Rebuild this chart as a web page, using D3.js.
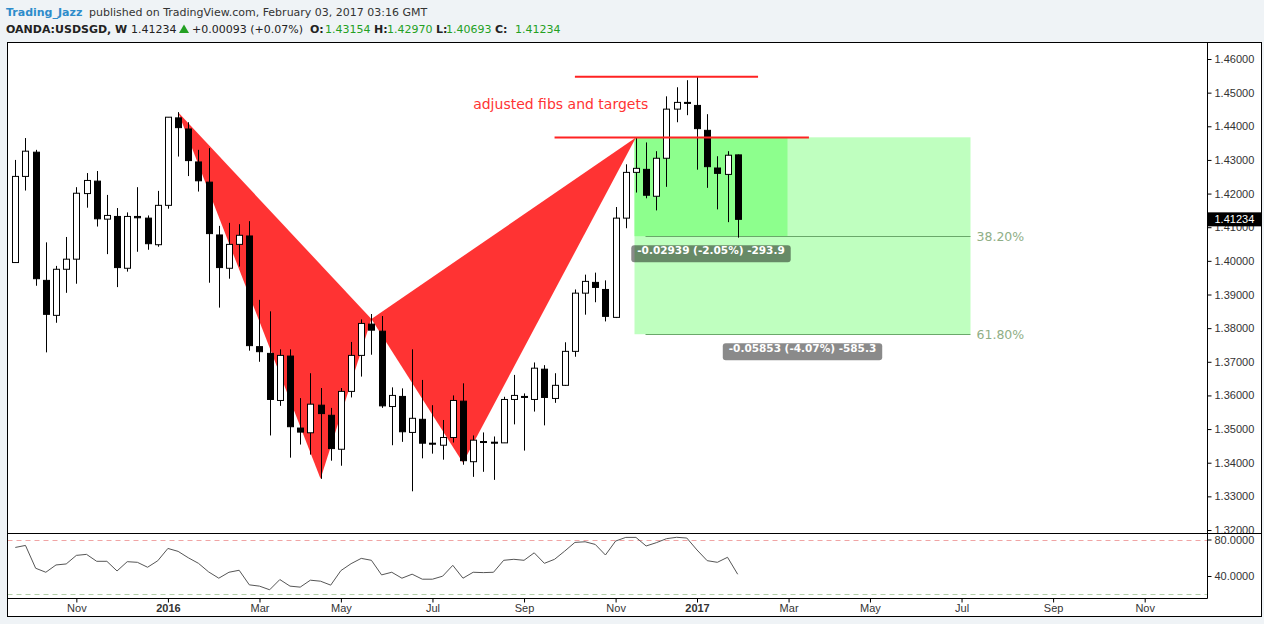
<!DOCTYPE html>
<html>
<head>
<meta charset="utf-8">
<script src="https://d3js.org/d3.v7.min.js"></script>
<style>
  body { margin: 0; background: #eff3f6; }
  svg { display: block; }
</style>
</head>
<body>
<svg width="1264" height="624"></svg>
<script>
// OANDA:USDSGD weekly bars, week of Sep 21 2015 .. week of Jan 30 2017
const firstWeek = new Date(2015, 8, 21);
const weeks = d3.timeMonday.range(firstWeek, new Date(2017, 0, 31));

const open = [1.3995, 1.4251, 1.4323, 1.3942, 1.3838, 1.3975, 1.4005, 1.4200, 1.4237, 1.4124,
  1.4132, 1.3978, 1.4132, 1.4127, 1.4048, 1.4165, 1.4425, 1.4392, 1.4294, 1.4234,
  1.4077, 1.3978, 1.4049, 1.4074, 1.3745, 1.3725, 1.3585, 1.3717, 1.3503, 1.3489,
  1.3571, 1.3541, 1.3440, 1.3612, 1.3719, 1.3812, 1.3791, 1.3567, 1.3597, 1.3490,
  1.3529, 1.3458, 1.3452, 1.3475, 1.3583, 1.3403, 1.3463, 1.3461, 1.3459, 1.3588,
  1.3597, 1.3588, 1.3678, 1.3591, 1.3630, 1.3731, 1.3904, 1.3936, 1.3915, 1.3832,
  1.4127, 1.4263, 1.4272, 1.4192, 1.4305, 1.4451, 1.4471, 1.4462, 1.4388, 1.4276,
  1.4257, 1.4315];
const high = [1.4300, 1.4365, 1.4330, 1.4055, 1.3985, 1.4071, 1.4219, 1.4261, 1.4267, 1.4196,
  1.4157, 1.4144, 1.4219, 1.4135, 1.4208, 1.4427, 1.4442, 1.4412, 1.4330, 1.4335,
  1.4104, 1.4113, 1.4109, 1.4118, 1.3884, 1.3850, 1.3737, 1.3737, 1.3592, 1.3666,
  1.3622, 1.3563, 1.3622, 1.3759, 1.3826, 1.3842, 1.3836, 1.3624, 1.3621, 1.3737,
  1.3646, 1.3571, 1.3527, 1.3600, 1.3636, 1.3481, 1.3490, 1.3478, 1.3596, 1.3661,
  1.3606, 1.3698, 1.3690, 1.3666, 1.3758, 1.3915, 1.3959, 1.3965, 1.3942, 1.4160,
  1.4287, 1.4367, 1.4352, 1.4326, 1.4489, 1.4516, 1.4537, 1.4547, 1.4436, 1.4311,
  1.4326, 1.4316];
const low = [1.3994, 1.4209, 1.3926, 1.3728, 1.3816, 1.3905, 1.3932, 1.4158, 1.4102, 1.4020,
  1.3922, 1.3968, 1.4027, 1.4033, 1.4042, 1.4155, 1.4310, 1.4252, 1.4206, 1.3935,
  1.3861, 1.3947, 1.3983, 1.3733, 1.3700, 1.3481, 1.3569, 1.3415, 1.3454, 1.3424,
  1.3352, 1.3406, 1.3391, 1.3594, 1.3656, 1.3721, 1.3563, 1.3452, 1.3462, 1.3315,
  1.3413, 1.3427, 1.3409, 1.3460, 1.3394, 1.3358, 1.3373, 1.3349, 1.3459, 1.3514,
  1.3436, 1.3552, 1.3511, 1.3578, 1.3628, 1.3715, 1.3840, 1.3877, 1.3820, 1.3830,
  1.4097, 1.4203, 1.4186, 1.4150, 1.4220, 1.4412, 1.4433, 1.4271, 1.4217, 1.4153,
  1.4115, 1.4069];
const close = [1.4251, 1.4326, 1.3947, 1.3841, 1.3975, 1.4005, 1.4201, 1.4239, 1.4125, 1.4135,
  1.3980, 1.4132, 1.4128, 1.4051, 1.4165, 1.4427, 1.4396, 1.4298, 1.4238, 1.4081,
  1.3980, 1.4049, 1.4076, 1.3748, 1.3730, 1.3588, 1.3719, 1.3507, 1.3491, 1.3574,
  1.3546, 1.3442, 1.3612, 1.3719, 1.3814, 1.3794, 1.3569, 1.3600, 1.3492, 1.3532,
  1.3458, 1.3456, 1.3475, 1.3585, 1.3406, 1.3467, 1.3461, 1.3458, 1.3588, 1.3600,
  1.3594, 1.3681, 1.3594, 1.3630, 1.3731, 1.3904, 1.3939, 1.3921, 1.3835, 1.4127,
  1.4263, 1.4275, 1.4195, 1.4305, 1.4451, 1.4471, 1.4469, 1.4393, 1.4280, 1.4260,
  1.4314, 1.41234];
const rsi = [71.3, 73.5, 48.5, 44.1, 52.1, 53.2, 62.6, 63.7, 56.1, 56.1,
  45.5, 55.7, 55.0, 49.6, 56.7, 70.2, 67.0, 60.0, 53.9, 44.5,
  37.6, 44.1, 46.3, 30.3, 28.9, 24.9, 36.1, 28.9, 27.8, 35.4,
  34.3, 30.0, 45.9, 53.5, 59.3, 57.2, 41.2, 44.1, 37.6, 42.0,
  36.5, 36.5, 39.8, 51.7, 37.6, 44.1, 43.7, 44.1, 57.2, 58.3,
  57.2, 65.4, 53.9, 58.3, 67.3, 76.8, 77.5, 74.6, 63.0, 78.3,
  82.3, 82.3, 72.9, 76.5, 80.9, 82.4, 81.6, 68.5, 56.8, 55.0,
  60.5, 41.9];

const priceTicks = d3.range(132, 147).map(v => v / 100);
const rsiTicks = [80, 40];
const rsiBands = [80, 20];

// XABCD pattern points: [week index, price]
const pattern = [[16, 1.4442], [30, 1.3352], [35, 1.3827], [44, 1.3400], [61, 1.4367]];
// red target lines: [from week, to week, price]
const targets = [[55, 73, 1.4547], [53, 78, 1.4367]];
const note = [45, 1.4450, 'adjusted fibs and targets'];

// fib / projection box
const fibTop = 1.43672;
const fibStart = 61, fibInnerEnd = 76, fibEnd = 94;
const fibPrices = [1.40733, 1.37819];
const fibPct = ['38.20%', '61.80%'];
const fibLabels = ['-0.02939 (-2.05%) -293.9', '-0.05853 (-4.07%) -585.3'];

const lastPrice = 1.41234;

// ---------------------------------------------------------------
const svg = d3.select('svg');
const L = 7.5, R = 1207.5, OR = 1261.5, T = 42.5, PB = 533.5, RB = 598.5, OB = 616.5;

const wk = i => d3.timeMonday.offset(firstWeek, i);
const x = d3.scaleTime().domain([firstWeek, new Date(2017, 0, 2)]).range([15.3, 697]);
const y = d3.scaleLinear().domain([1.32, 1.46]).range([530, 59]);
const ry = d3.scaleLinear().domain([20, 80]).range([594.25, 539.5]);
const cx = i => Math.round(x(wk(i))) + 0.5;

svg.append('rect').attr('x', L).attr('y', T).attr('width', OR - L).attr('height', OB - T).attr('fill', '#fff');

const defs = svg.append('defs');
defs.append('clipPath').attr('id', 'cp-price').append('rect')
  .attr('x', L).attr('y', T).attr('width', R - L).attr('height', PB - T);
defs.append('clipPath').attr('id', 'cp-rsi').append('rect')
  .attr('x', L).attr('y', PB).attr('width', R - L).attr('height', RB - PB);
defs.append('clipPath').attr('id', 'cp-paxis').append('rect')
  .attr('x', R).attr('y', T).attr('width', OR - R).attr('height', PB - T);

const pg = svg.append('g').attr('clip-path', 'url(#cp-price)');

// fib boxes
const bx0 = cx(fibStart) - 2;
pg.append('rect').attr('x', bx0).attr('y', y(fibTop))
  .attr('width', cx(fibEnd) - 2 - bx0).attr('height', y(fibPrices[1]) - y(fibTop))
  .attr('fill', '#bfffbf');
pg.append('rect').attr('x', bx0).attr('y', y(fibTop))
  .attr('width', cx(fibInnerEnd) - 2 - bx0).attr('height', y(fibPrices[0]) - y(fibTop))
  .attr('fill', '#8dff8d');
pg.selectAll('line.fib').data(fibPrices).join('line').attr('class', 'fib')
  .attr('x1', cx(fibStart + 1) - 1).attr('x2', cx(fibEnd) - 2)
  .attr('y1', d => Math.round(y(d)) + 0.5).attr('y2', d => Math.round(y(d)) + 0.5)
  .attr('stroke', '#6aa86a');

// harmonic pattern triangles
const pt = p => [x(wk(p[0])), y(p[1])];
pg.selectAll('path.tri').data([pattern.slice(0, 3), pattern.slice(2, 5)]).join('path')
  .attr('class', 'tri')
  .attr('d', d => 'M' + d.map(pt).map(q => q.join(',')).join('L') + 'Z')
  .attr('fill', '#ff3333');

// candles
const cg = pg.append('g');
weeks.forEach((d, i) => {
  const up = close[i] >= open[i];
  const c = cx(i);
  cg.append('line').attr('x1', c).attr('x2', c).attr('y1', y(high[i])).attr('y2', y(low[i]))
    .attr('stroke', '#000');
  const top = y(Math.max(open[i], close[i]));
  const h = Math.max(1, y(Math.min(open[i], close[i])) - top);
  cg.append('rect').attr('x', c - 3).attr('y', top).attr('width', 6).attr('height', h)
    .attr('fill', up ? '#fff' : '#000').attr('stroke', '#000');
});

// target lines and note
pg.selectAll('line.tgt').data(targets).join('line').attr('class', 'tgt')
  .attr('x1', d => x(wk(d[0]))).attr('x2', d => x(wk(d[1])))
  .attr('y1', d => y(d[2])).attr('y2', d => y(d[2]))
  .attr('stroke', '#ff2222').attr('stroke-width', 2);
pg.append('text').attr('x', x(wk(note[0]))).attr('y', y(note[1]))
  .attr('font-family', 'DejaVu Sans, sans-serif').attr('font-size', 14)
  .attr('fill', '#ff3333').text(note[2]);

// fib percentage labels
pg.selectAll('text.pct').data(fibPrices).join('text').attr('class', 'pct')
  .attr('x', cx(fibEnd) + 4).attr('y', d => y(d)).attr('dy', '0.36em')
  .attr('font-family', 'DejaVu Sans, sans-serif').attr('font-size', 12.5)
  .attr('fill', '#8fae86').text((d, i) => fibPct[i]);

// measurement labels
const labelCenters = [(bx0 + cx(fibInnerEnd) - 2) / 2, (bx0 + cx(fibEnd) - 2) / 2];
fibPrices.forEach((p, i) => {
  const g = pg.append('g');
  const t = g.append('text').attr('x', labelCenters[i]).attr('y', y(p) + 17.5)
    .attr('text-anchor', 'middle').attr('font-family', 'DejaVu Sans, sans-serif')
    .attr('font-size', 10.5).attr('font-weight', 'bold').attr('fill', '#fff').text(fibLabels[i]);
  const w = t.node().getComputedTextLength() + 12;
  g.insert('rect', 'text').attr('x', labelCenters[i] - w / 2).attr('y', y(p) + 9)
    .attr('width', w).attr('height', 17).attr('rx', 3)
    .attr('fill', '#000').attr('opacity', 0.46);
});

// RSI panel
const rg = svg.append('g').attr('clip-path', 'url(#cp-rsi)');
rg.selectAll('line.band').data(rsiBands).join('line').attr('class', 'band')
  .attr('x1', L).attr('x2', R)
  .attr('y1', d => Math.round(ry(d)) + 0.5).attr('y2', d => Math.round(ry(d)) + 0.5)
  .attr('stroke', (d, i) => i ? '#b5d0ab' : '#f0a4a4').attr('stroke-dasharray', '5,4');
rg.append('path').datum(rsi)
  .attr('d', d3.line().x((d, i) => x(wk(i))).y(d => ry(d)))
  .attr('fill', 'none').attr('stroke', '#555').attr('stroke-width', 1);

// axes
const styleAxis = g => {
  g.select('.domain').remove();
  g.selectAll('.tick line').attr('stroke', '#000');
  g.selectAll('text').attr('fill', '#333').attr('font-size', 11)
    .attr('font-family', 'Liberation Sans, Arial, sans-serif');
};
svg.append('g').attr('clip-path', 'url(#cp-paxis)').append('g')
  .attr('transform', `translate(${R},0)`)
  .call(d3.axisRight(y).tickValues(priceTicks).tickFormat(d3.format('.5f')).tickSize(4).tickPadding(3))
  .call(styleAxis);
svg.append('g').attr('transform', `translate(${R},0)`)
  .call(d3.axisRight(ry).tickValues(rsiTicks).tickFormat(d3.format('.4f')).tickSize(4).tickPadding(3))
  .call(styleAxis);

const monthTicks = d3.timeMonth.range(new Date(2015, 10, 1), new Date(2017, 11, 2), 2)
  .map(m => d3.timeMonday.ceil(m));
const xa = svg.append('g').attr('transform', `translate(0,${RB})`)
  .call(d3.axisBottom(x).tickValues(monthTicks).tickSize(4).tickPadding(2)
    .tickFormat(d => d.getMonth() === 0 ? d3.timeFormat('%Y')(d) : d3.timeFormat('%b')(d)))
  .call(styleAxis);
xa.selectAll('.tick text').attr('font-weight', d => d.getMonth() === 0 ? 'bold' : null);

// last price marker
const lp = svg.append('g');
lp.append('rect').attr('x', R).attr('y', y(lastPrice) - 7).attr('width', OR - R).attr('height', 14)
  .attr('fill', '#000');
lp.append('text').attr('x', R + 7).attr('y', y(lastPrice)).attr('dy', '0.36em')
  .attr('font-family', 'Liberation Sans, Arial, sans-serif').attr('font-size', 11)
  .attr('fill', '#fff').text(d3.format('.5f')(lastPrice));

// frame
const frame = svg.append('g').attr('stroke', '#000').attr('fill', 'none');
frame.append('rect').attr('x', L).attr('y', T).attr('width', OR - L).attr('height', OB - T);
frame.append('line').attr('x1', R).attr('x2', R).attr('y1', T).attr('y2', RB);
frame.append('line').attr('x1', L).attr('x2', OR).attr('y1', PB).attr('y2', PB);
frame.append('line').attr('x1', L).attr('x2', R).attr('y1', RB).attr('y2', RB);

// header
const green = '#23a023';
const h1 = svg.append('text').attr('y', 16).attr('font-family', 'DejaVu Sans, sans-serif').attr('font-size', 11);
h1.append('tspan').attr('x', 6).attr('fill', '#2d8ccb').attr('font-weight', 'bold').text('Trading_Jazz');
h1.append('tspan').attr('x', 89).attr('fill', '#333').text('published on TradingView.com, February 03, 2017 03:16 GMT');

const header2 = [
  [6, 'OANDA:USDSGD, W', '#222', 'bold'],
  [131, '1.41234', '#222', null],
  [192, '+0.00093 (+0.07%)', '#222', null],
  [310, 'O:', '#222', 'bold'], [325, '1.43154', green, null],
  [374, 'H:', '#222', 'bold'], [387, '1.42970', green, null],
  [436, 'L:', '#222', 'bold'], [446, '1.40693', green, null],
  [495, 'C:', '#222', 'bold'], [515, '1.41234', green, null]
];
const h2 = svg.append('text').attr('y', 33).attr('font-family', 'DejaVu Sans, sans-serif').attr('font-size', 11);
header2.forEach(d => {
  h2.append('tspan').attr('x', d[0]).attr('fill', d[2]).attr('font-weight', d[3]).text(d[1]);
});
svg.append('path').attr('d', 'M179,33L189,33L184,24.5Z').attr('fill', green);
</script>
</body>
</html>
